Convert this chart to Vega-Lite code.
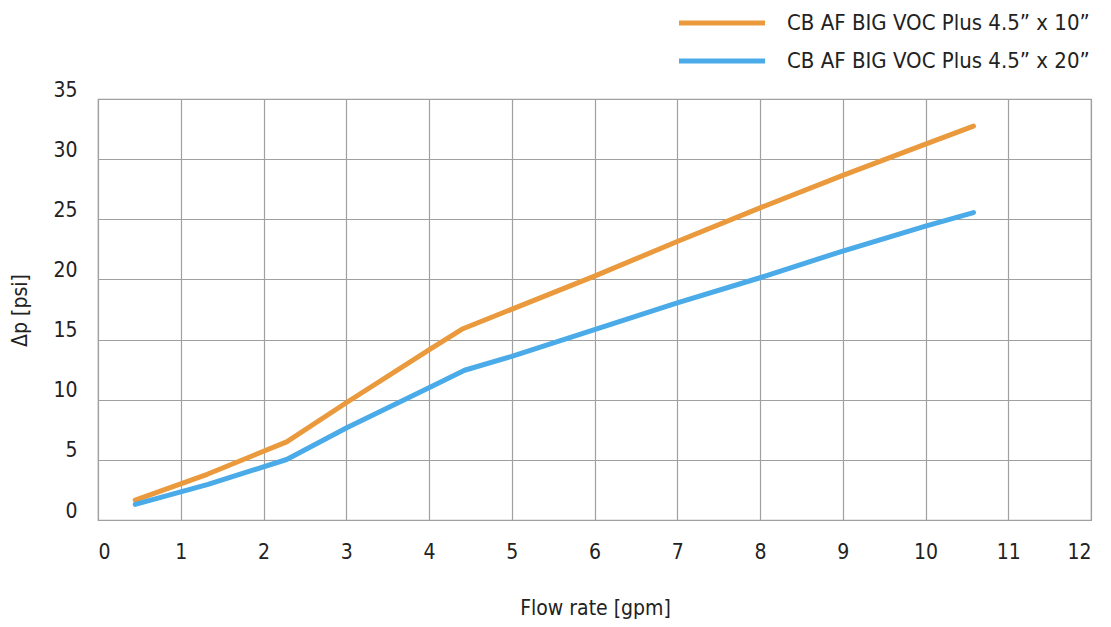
{
  "$schema": "https://vega.github.io/schema/vega-lite/v6.json",
  "width": 993,
  "height": 421,
  "autosize": {"type": "none"},
  "padding": {"left": 98, "top": 99, "right": 20, "bottom": 107},
  "background": "white",
  "config": {
    "font": "DejaVu Sans Condensed, Roboto, sans-serif",
    "view": {"stroke": "#a0a0a0", "strokeWidth": 1.2},
    "axis": {
      "labelFont": "DejaVu Sans Condensed, Roboto, sans-serif",
      "titleFont": "DejaVu Sans Condensed, Roboto, sans-serif",
      "labelColor": "#222",
      "titleColor": "#222",
      "gridColor": "#a0a0a0",
      "gridWidth": 1.2,
      "gridOpacity": 1,
      "domain": false,
      "ticks": false
    },
    "legend": {
      "labelFont": "DejaVu Sans Condensed, Roboto, sans-serif",
      "labelColor": "#222"
    }
  },
  "data": {
    "values": [
      {"series": "CB AF BIG VOC Plus 4.5” x 10”", "flow": 0.45, "dp": 1.65},
      {"series": "CB AF BIG VOC Plus 4.5” x 10”", "flow": 1.32, "dp": 3.8},
      {"series": "CB AF BIG VOC Plus 4.5” x 10”", "flow": 2.28, "dp": 6.5},
      {"series": "CB AF BIG VOC Plus 4.5” x 10”", "flow": 3.0, "dp": 9.75},
      {"series": "CB AF BIG VOC Plus 4.5” x 10”", "flow": 4.0, "dp": 14.15},
      {"series": "CB AF BIG VOC Plus 4.5” x 10”", "flow": 4.41, "dp": 15.9},
      {"series": "CB AF BIG VOC Plus 4.5” x 10”", "flow": 6.0, "dp": 20.28},
      {"series": "CB AF BIG VOC Plus 4.5” x 10”", "flow": 7.0, "dp": 23.15},
      {"series": "CB AF BIG VOC Plus 4.5” x 10”", "flow": 8.0, "dp": 25.95},
      {"series": "CB AF BIG VOC Plus 4.5” x 10”", "flow": 9.0, "dp": 28.65},
      {"series": "CB AF BIG VOC Plus 4.5” x 10”", "flow": 10.0, "dp": 31.25},
      {"series": "CB AF BIG VOC Plus 4.5” x 10”", "flow": 10.58, "dp": 32.75},
      {"series": "CB AF BIG VOC Plus 4.5” x 20”", "flow": 0.45, "dp": 1.3},
      {"series": "CB AF BIG VOC Plus 4.5” x 20”", "flow": 1.33, "dp": 2.96},
      {"series": "CB AF BIG VOC Plus 4.5” x 20”", "flow": 2.28, "dp": 5.03},
      {"series": "CB AF BIG VOC Plus 4.5” x 20”", "flow": 3.0, "dp": 7.65},
      {"series": "CB AF BIG VOC Plus 4.5” x 20”", "flow": 4.0, "dp": 11.0},
      {"series": "CB AF BIG VOC Plus 4.5” x 20”", "flow": 4.43, "dp": 12.45},
      {"series": "CB AF BIG VOC Plus 4.5” x 20”", "flow": 5.0, "dp": 13.6},
      {"series": "CB AF BIG VOC Plus 4.5” x 20”", "flow": 6.0, "dp": 15.83},
      {"series": "CB AF BIG VOC Plus 4.5” x 20”", "flow": 7.0, "dp": 18.06},
      {"series": "CB AF BIG VOC Plus 4.5” x 20”", "flow": 8.0, "dp": 20.14},
      {"series": "CB AF BIG VOC Plus 4.5” x 20”", "flow": 9.0, "dp": 22.36},
      {"series": "CB AF BIG VOC Plus 4.5” x 20”", "flow": 10.0, "dp": 24.44},
      {"series": "CB AF BIG VOC Plus 4.5” x 20”", "flow": 10.58, "dp": 25.56}
    ]
  },
  "mark": {"type": "line", "strokeWidth": 5, "strokeCap": "round", "strokeJoin": "round"},
  "encoding": {
    "x": {
      "field": "flow",
      "type": "quantitative",
      "scale": {"domain": [0, 12], "nice": false},
      "axis": {
        "values": [0, 1, 2, 3, 4, 5, 6, 7, 8, 9, 10, 11, 12],
        "title": "Flow rate [gpm]",
        "labelFontSize": 21,
        "labelPadding": 32,
        "labelBaseline": "middle",
        "titleFontSize": 21,
        "titleFontWeight": "normal",
        "titleX": 497,
        "titleY": 88,
        "titleBaseline": "middle"
      }
    },
    "y": {
      "field": "dp",
      "type": "quantitative",
      "scale": {"domain": [0, 35], "nice": false},
      "axis": {
        "values": [0, 5, 10, 15, 20, 25, 30, 35],
        "title": "Δp [psi]",
        "labelFontSize": 21,
        "labelPadding": 21,
        "labelBaseline": "alphabetic",
        "labelOffset": -3,
        "titleFontSize": 21,
        "titleFontWeight": "normal",
        "titleX": -78,
        "titleY": 211,
        "titleBaseline": "middle",
        "titleAlign": "center"
      }
    },
    "color": {
      "field": "series",
      "type": "nominal",
      "scale": {
        "domain": ["CB AF BIG VOC Plus 4.5” x 10”", "CB AF BIG VOC Plus 4.5” x 20”"],
        "range": ["#EA9A3C", "#4AABE8"]
      },
      "legend": {
        "title": null,
        "orient": "none",
        "legendX": 578,
        "legendY": -87,
        "symbolType": "stroke",
        "symbolSize": 7400,
        "symbolStrokeWidth": 5,
        "labelFontSize": 22,
        "labelOffset": 19,
        "labelLimit": 0,
        "clipHeight": 22,
        "rowPadding": 16
      }
    }
  }
}
